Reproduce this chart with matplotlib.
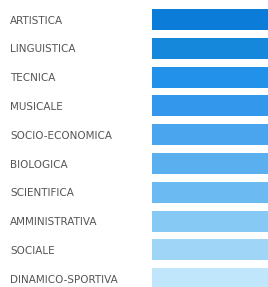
import matplotlib
matplotlib.use("Agg")
import matplotlib.pyplot as plt

categories = ["ARTISTICA", "LINGUISTICA", "TECNICA", "MUSICALE", "SOCIO-ECONOMICA",
              "BIOLOGICA", "SCIENTIFICA", "AMMINISTRATIVA", "SOCIALE", "DINAMICO-SPORTIVA"]
values = [100, 100, 100, 100, 100, 100, 100, 100, 100, 100]
colors = ["#0b7dd8", "#1688dc", "#2291ea", "#3398ec", "#4aa5ee",
          "#5aafef", "#6bbaf2", "#86c9f5", "#9fd6f8", "#c0e6fb"]

W, H, DPI = 268, 287, 100
fig = plt.figure(figsize=(W / DPI, H / DPI), dpi=DPI)
left_px = 152
ax = fig.add_axes([left_px / W, 0, 1 - left_px / W, 1])

pos = list(range(len(categories)))
ax.barh(pos, values, height=0.73, color=colors)

pitch = 28.8
c0 = 19.5
ax.set_ylim((H - c0) / pitch, -c0 / pitch)
ax.set_xlim(0, max(values))

ax.set_yticks(pos)
ax.set_yticklabels(categories, family="DejaVu Sans", fontsize=7.5, color="#555555")
for t in ax.get_yticklabels():
    t.set_ha("left")
ax.tick_params(axis="y", length=0, pad=(left_px - 10) * 72 / DPI)
ax.set_xticks([])
for s in ax.spines.values():
    s.set_visible(False)

fig.savefig("out.png", dpi=DPI)
